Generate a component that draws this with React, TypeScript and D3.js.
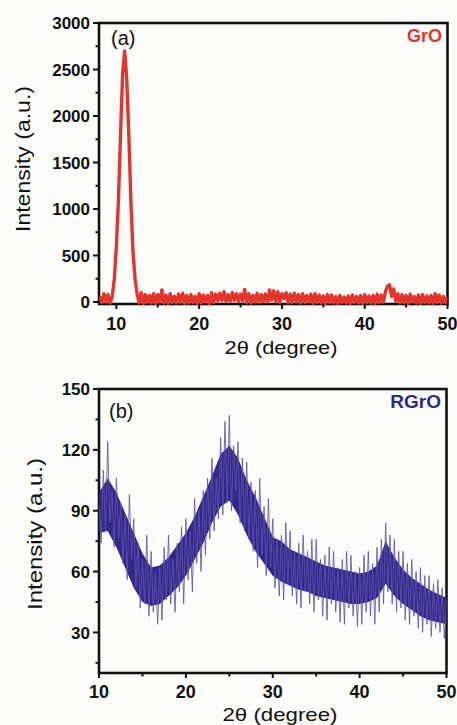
import React from "react";
import * as d3 from "d3";

// GrO pattern, 2θ from 8° in 0.25° steps
const groStart = 8;
const groStep = 0.25;
const groIntensity = [
  60, -5, 90, 0,
  80, -10, 60, 250,
  600, 1100, 1800, 2450,
  2700, 2400, 1800, 1100,
  550, 250, 90, -10,
  100, -15, 80, -5,
  70, -10, 90, -15,
  80, 0, 130, -10,
  75, -15, 90, -5,
  60, -10, 85, -5,
  95, -15, 70, -10,
  80, -5, 60, -15,
  90, -10, 75, 0,
  70, -15, 100, -5,
  85, 10, 95, 15,
  110, 5, 80, 10,
  100, 15, 90, 5,
  85, 10, 135, -5,
  90, -10, 70, 0,
  95, -5, 80, 5,
  85, 0, 130, 20,
  120, 5, 110, -5,
  90, 35, 100, -10,
  85, -5, 95, 0,
  80, -10, 90, -5,
  70, 0, 85, -15,
  90, -5, 75, -10,
  65, -15, 80, -5,
  75, -10, 60, -15,
  70, -5, 55, -10,
  65, -15, 75, -5,
  60, -10, 70, -15,
  80, -5, 65, -10,
  70, -15, 85, -5,
  75, 0, 110, 170,
  185, 60, 140, 10,
  90, -10, 80, -5,
  70, -15, 85, 0,
  60, -10, 75, -15,
  80, -5, 65, -10,
  70, -15, 90, -5,
  75, -10, 60, -5,
  55,
];

// RGrO pattern, 2θ from 10° in 0.25° steps
const rgroStart = 10;
const rgroStep = 0.25;
const rgroIntensity = [
  92, 74, 110, 80,
  124, 84, 100, 72,
  106, 76, 94, 64,
  88, 56, 98, 66,
  86, 52, 74, 42,
  66, 44, 78, 38,
  70, 40, 60, 34,
  62, 36, 72, 46,
  78, 44, 66, 40,
  74, 50, 82, 44,
  86, 56, 80, 50,
  96, 64, 90, 60,
  100, 68, 106, 76,
  116, 80, 106, 86,
  126, 88, 134, 94,
  137, 90, 122, 100,
  124, 84, 116, 80,
  114, 76, 104, 70,
  100, 62, 106, 68,
  92, 58, 96, 62,
  86, 52, 76, 48,
  78, 46, 84, 54,
  80, 48, 70, 44,
  74, 42, 78, 50,
  70, 44, 76, 40,
  76, 46, 66, 38,
  68, 36, 72, 44,
  70, 40, 62, 35,
  66, 34, 70, 42,
  68, 38, 60, 33,
  62, 34, 68, 40,
  70, 38, 64, 34,
  72, 40, 76, 44,
  84, 50, 78, 44,
  76, 40, 70, 42,
  70, 36, 64, 34,
  66, 38, 60, 32,
  62, 30, 58, 34,
  58, 28, 54, 32,
  56, 30, 52, 27,
  46,
];

// dense core band of the RGrO trace, read per degree
const rgroCoreAngles = [
  10, 11, 12, 13, 14, 15, 16, 17, 18, 19, 20, 21, 22, 23, 24, 25, 26, 27, 28, 29,
  30, 31, 32, 33, 34, 35, 36, 37, 38, 39, 40, 41, 42, 43, 44, 45, 46, 47, 48, 49, 50,
];
const rgroCoreLow = [
  79, 80, 72, 62, 52, 45, 43, 44, 48, 52, 58, 66, 74, 84, 92, 95, 88, 78, 70, 64,
  58, 55, 53, 51, 50, 48, 47, 46, 45, 44, 44, 45, 47, 54, 48, 44, 41, 38, 36, 35, 34,
];
const rgroCoreHigh = [
  99, 106, 99, 89, 79, 69, 62, 63, 67, 73, 79, 87, 97, 107, 118, 122, 116, 105, 97, 87,
  77, 75, 71, 69, 67, 65, 63, 62, 61, 60, 59, 60, 63, 75, 67, 61, 57, 54, 51, 49, 47,
];

const xTicks = [10, 20, 30, 40, 50];
const xMinor = [15, 25, 35, 45];
const groYTicks = [0, 500, 1000, 1500, 2000, 2500, 3000];
const groYMinor = [250, 750, 1250, 1750, 2250, 2750];
const rgroYTicks = [30, 60, 90, 120, 150];
const rgroYMinor = [15, 45, 75, 105, 135];

const FONT = "'Liberation Sans', Arial, Helvetica, sans-serif";
const RED = "#e3352b";
const NAVY = "#33278a";
const LILAC = "#5e53ac";

type Lin = d3.ScaleLinear<number, number>;

function Axes(props: {
  x: Lin; y: Lin; yt: number[]; ym: number[]; xLabBase: number;
}) {
  const { x, y, yt, ym, xLabBase } = props;
  const [x0, x1] = x.range();
  const [y0, y1] = y.range();
  return (
    <g>
      <rect x={x0} y={y1} width={x1 - x0} height={y0 - y1} fill="none" stroke="#111" strokeWidth={2.6} />
      {yt.map((v) => (
        <g key={"y" + v}>
          <line x1={x0 - 6} x2={x0} y1={y(v)} y2={y(v)} stroke="#111" strokeWidth={2} />
          <text x={x0 - 9} y={y(v)} dy="0.36em" textAnchor="end" fontSize={17} fontWeight="bold">{v}</text>
        </g>
      ))}
      {ym.map((v) => (
        <line key={"ym" + v} x1={x0 - 3.5} x2={x0} y1={y(v)} y2={y(v)} stroke="#111" strokeWidth={2} />
      ))}
      {xTicks.map((v) => (
        <g key={"x" + v}>
          <line x1={x(v)} x2={x(v)} y1={y0} y2={y0 + 5} stroke="#111" strokeWidth={2} />
          <text x={x(v)} y={xLabBase} textAnchor="middle" fontSize={18} fontWeight="bold">{v}</text>
        </g>
      ))}
      {xMinor.map((v) => (
        <line key={"xm" + v} x1={x(v)} x2={x(v)} y1={y0} y2={y0 + 3.5} stroke="#111" strokeWidth={2} />
      ))}
    </g>
  );
}

export default function App() {
  // panel (a)
  const xa = d3.scaleLinear().domain([7.9, 50]).range([99, 447.5]);
  const ya = d3.scaleLinear().domain([-21.5, 3000]).range([304, 23]);
  const groPts: [number, number][] = groIntensity.map((v, i) => [groStart + i * groStep, v]);
  const lineA = d3.line<[number, number]>().x((d) => xa(d[0])).y((d) => ya(d[1]));

  // panel (b)
  const xb = d3.scaleLinear().domain([10, 50]).range([99, 446.5]);
  const yb = d3.scaleLinear().domain([10, 150]).range([673, 389]);
  const rgroPts: [number, number][] = rgroIntensity.map((v, i) => [rgroStart + i * rgroStep, v]);
  const lineB = d3.line<[number, number]>().x((d) => xb(d[0])).y((d) => yb(d[1]));
  const core = d3
    .area<number>()
    .x((d) => xb(d))
    .y0((d, i) => yb(rgroCoreLow[i]))
    .y1((d, i) => yb(rgroCoreHigh[i]));

  return (
    <svg
      width={457}
      height={725}
      style={{ position: "absolute", left: 0, top: 0, background: "#fdfdfb" }}
      fontFamily={FONT}
      fill="#111"
    >
      <defs>
        <clipPath id="clipA">
          <rect x={99} y={23} width={348.5} height={283} />
        </clipPath>
        <clipPath id="clipB">
          <rect x={99} y={389} width={347.5} height={284} />
        </clipPath>
      </defs>

      <Axes x={xa} y={ya} yt={groYTicks} ym={groYMinor} xLabBase={330} />
      <g clipPath="url(#clipA)">
        <path d={lineA(groPts) || ""} fill="none" stroke={RED} strokeWidth={3.4} strokeLinejoin="round" />
      </g>
      <text x={111} y={45} fontSize={20}>(a)</text>
      <text x={442} y={42} textAnchor="end" fontSize={18} fontWeight="bold" fill={RED}>GrO</text>
      <text x={281} y={354} textAnchor="middle" fontSize={19} textLength={113} lengthAdjust="spacingAndGlyphs">2θ (degree)</text>
      <text
        transform="translate(30,159) rotate(-90)"
        textAnchor="middle"
        fontSize={20}
        textLength={146}
        lengthAdjust="spacingAndGlyphs"
      >
        Intensity (a.u.)
      </text>

      <Axes x={xb} y={yb} yt={rgroYTicks} ym={rgroYMinor} xLabBase={698} />
      <g clipPath="url(#clipB)">
        <path d={core(rgroCoreAngles) || ""} fill={NAVY} />
        <path d={lineB(rgroPts) || ""} fill="none" stroke={LILAC} strokeWidth={1} strokeOpacity={0.85} />
      </g>
      <text x={109} y={418} fontSize={20}>(b)</text>
      <text x={441} y={408} textAnchor="end" fontSize={19} fontWeight="bold" fill={NAVY}>RGrO</text>
      <text x={280} y={721} textAnchor="middle" fontSize={19} textLength={115} lengthAdjust="spacingAndGlyphs">2θ (degree)</text>
      <text
        transform="translate(42,534) rotate(-90)"
        textAnchor="middle"
        fontSize={20}
        textLength={152}
        lengthAdjust="spacingAndGlyphs"
      >
        Intensity (a.u.)
      </text>
    </svg>
  );
}
